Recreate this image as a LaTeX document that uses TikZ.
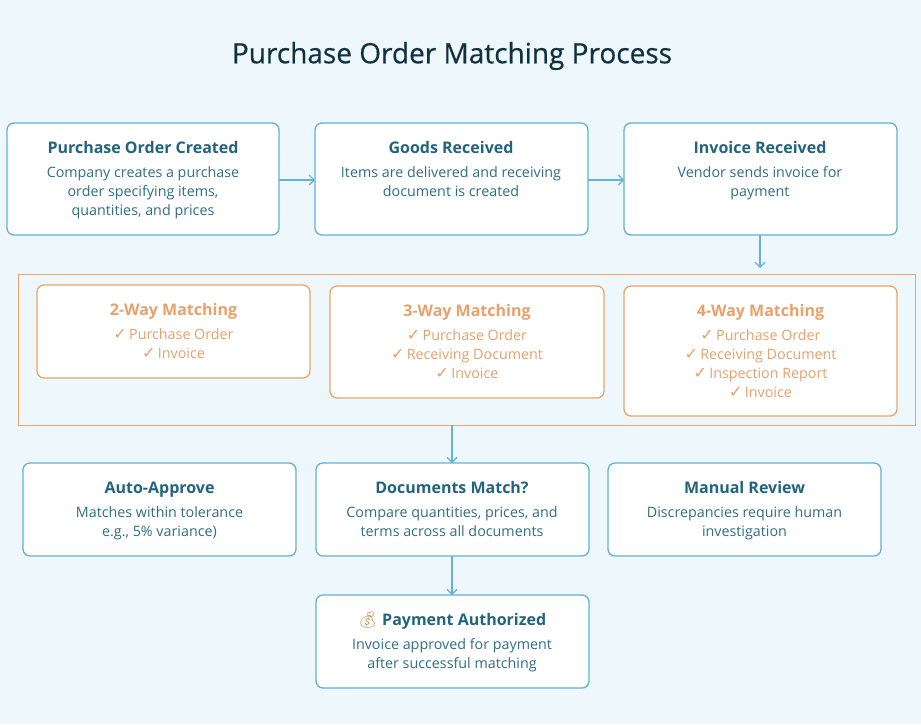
\documentclass[tikz,border=0pt]{standalone}
\usepackage{fontspec}
\setmainfont{Open Sans}
\newfontfamily\titlefont[FakeBold=0.5]{Open Sans}
\newfontfamily\symfont{DejaVu Sans}
\newfontfamily\emojifont{Noto Emoji}
\usetikzlibrary{arrows.meta}
\definecolor{bg}{HTML}{EEF7FC}
\definecolor{bluebd}{HTML}{62B2D4}
\definecolor{bluetitle}{HTML}{22647D}
\definecolor{bluetext}{HTML}{2F6E86}
\definecolor{orangebd}{HTML}{EBA46A}
\definecolor{orangetext}{HTML}{E9A06A}
\definecolor{maintitle}{HTML}{10323F}
\definecolor{bag}{HTML}{C98E4C}
\newcommand{\ck}{{\symfont\bfseries\fontsize{16}{19}\selectfont\char"2713}\,}
\tikzset{
  bluebox/.style={draw=bluebd, line width=1.3pt, fill=white, rounded corners=7pt, inner sep=0pt},
  orangebox/.style={draw=orangebd, line width=1.3pt, fill=white, rounded corners=7pt, inner sep=0pt},
  ttl/.style={font=\fontsize{16}{19}\selectfont\bfseries, align=center, text height=11.5pt, text depth=3pt, inner sep=0pt},
  txt/.style={font=\fontsize{14.3}{19}\selectfont, align=center, anchor=north, inner sep=0pt},
  btitle/.style={ttl, text=bluetitle},
  btext/.style={txt, text=bluetext},
  otitle/.style={ttl, text=orangetext},
  otext/.style={txt, text=orangetext},
  conn/.style={draw=bluebd, line width=1.1pt, -{Straight Barb[length=5pt,width=10pt,line width=1.1pt]}},
}
\begin{document}
\begin{tikzpicture}[x=1pt,y=-1pt]
\path[fill=bg] (0,0) rectangle (921,724);
\useasboundingbox (0,0) rectangle (921,724);

\node[font=\titlefont\fontsize{28}{30}\selectfont, text=maintitle] (title) at (452,56) {Purchase Order Matching Process};

% row 1
\path[bluebox] (7,123) rectangle (279,235);
\coordinate (b1e) at (279,180);
\node[btitle] (b1) at (143,149) {Purchase Order Created};
\node[btext] at (143,166) {Company creates a purchase\\order specifying items,\\quantities, and prices};

\path[bluebox] (315,123) rectangle (588,235);
\coordinate (b2w) at (315,180);
\coordinate (b2e) at (588,180);
\node[btitle] (b2) at (451,149) {Goods Received};
\node[btext] at (451,166) {Items are delivered and receiving\\document is created};

\path[bluebox] (624,123) rectangle (897,235);
\coordinate (b3w) at (624,180);
\coordinate (b3s) at (760,235);
\node[btitle] (b3) at (760,149) {Invoice Received};
\node[btext] at (760,166) {Vendor sends invoice for\\payment};

\draw[conn] (b1e) -- (b2w);
\draw[conn] (b2e) -- (b3w);

% container
\draw[draw=orangebd, line width=1pt] (18,274) rectangle (915,425);
\coordinate (cn) at (760,268);
\coordinate (cs) at (452,425);
\draw[conn] (b3s) -- (cn);

\path[orangebox] (37,285) rectangle (310,378);
\node[otitle] (m2) at (173.5,311) {2-Way Matching};
\node[otext] at (173.5,328) {\ck Purchase Order\\\ck Invoice};

\path[orangebox] (330,286) rectangle (604,398);
\node[otitle] (m3) at (467,312) {3-Way Matching};
\node[otext] at (467,329) {\ck Purchase Order\\\ck Receiving Document\\\ck Invoice};

\path[orangebox] (624,286) rectangle (897,416);
\node[otitle] (m4) at (760.5,312) {4-Way Matching};
\node[otext] at (760.5,329) {\ck Purchase Order\\\ck Receiving Document\\\ck Inspection Report\\\ck Invoice};

% row 3
\path[bluebox] (23,463) rectangle (296,556);
\node[btitle] (aa) at (159.5,489) {Auto-Approve};
\node[btext] at (159.5,506) {Matches within tolerance\\e.g., 5\% variance)};

\path[bluebox] (316,463) rectangle (589,556);
\coordinate (dmn) at (452,463);
\coordinate (dms) at (452,556);
\node[btitle] (dm) at (452,489) {Documents Match?};
\node[btext] at (452,506) {Compare quantities, prices, and\\terms across all documents};

\path[bluebox] (608,463) rectangle (881,556);
\node[btitle] (mr) at (744.5,489) {Manual Review};
\node[btext] at (744.5,506) {Discrepancies require human\\investigation};

\draw[conn] (cs) -- (dmn);

% payment
\path[bluebox] (316,595) rectangle (589,688);
\coordinate (pan) at (452,595);
\node[btitle] (pa) at (452,621) {{\emojifont\mdseries\color{bag}\char"1F4B0}\ Payment Authorized};
\node[btext] at (452,638) {Invoice approved for payment\\after successful matching};

\draw[conn] (dms) -- (pan);
\end{tikzpicture}
\end{document}
